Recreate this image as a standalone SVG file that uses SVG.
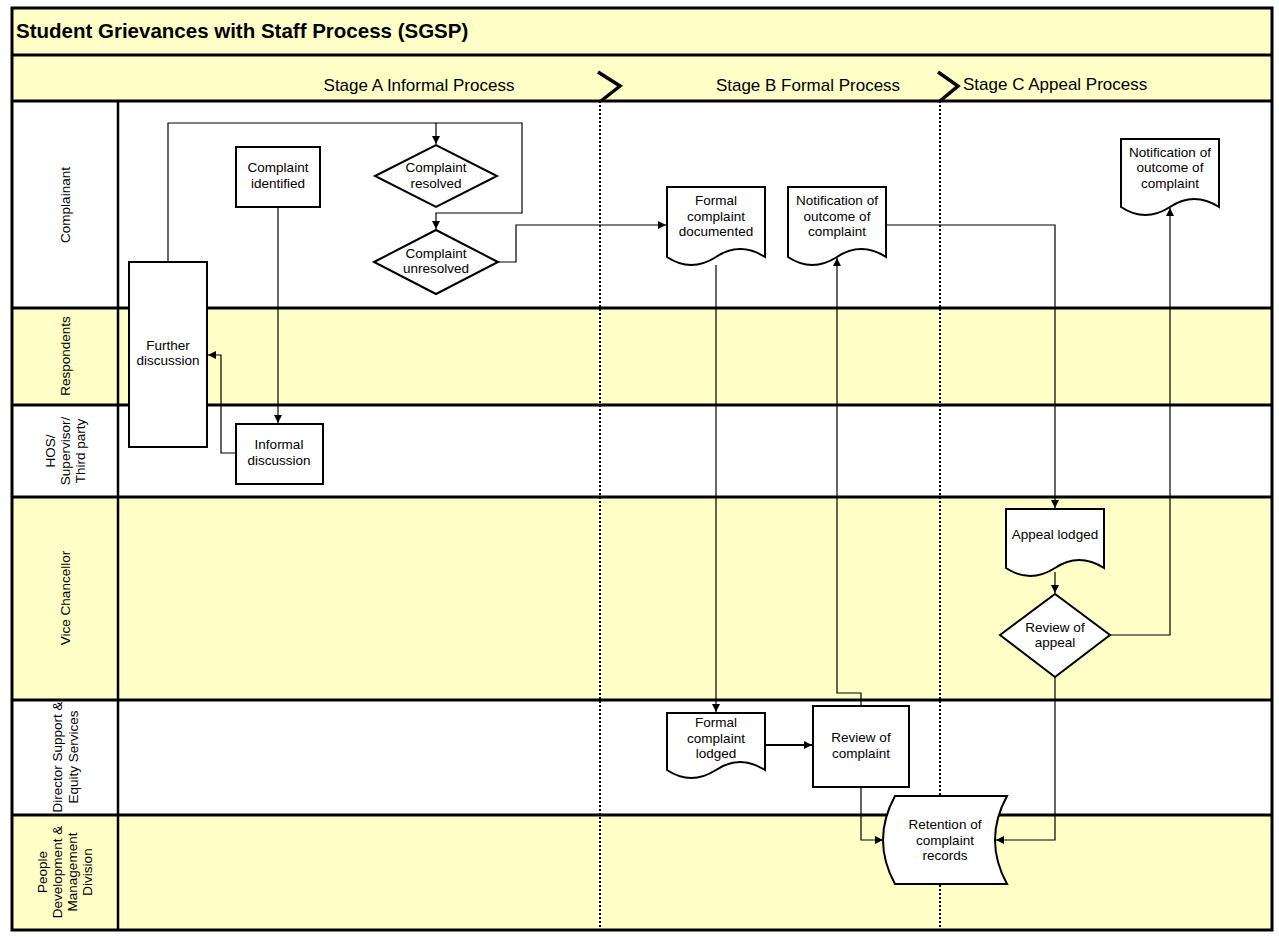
<svg xmlns="http://www.w3.org/2000/svg" width="1279" height="937" viewBox="0 0 1279 937">
<style>
.t{font-family:"Liberation Sans",Arial,sans-serif;font-size:13.5px;fill:#000;text-anchor:middle}
.lbl{font-family:"Liberation Sans",Arial,sans-serif;font-size:13.5px;fill:#000;text-anchor:middle}
.node{fill:#fff;stroke:#000;stroke-width:2}
.lane{stroke:#000;stroke-width:3}
.y{fill:#FFFFC8}
.w{fill:#fff}
.c{fill:none;stroke:#000;stroke-width:1.2}
.div{stroke:#000;stroke-width:2;stroke-dasharray:2,2}
.stage{font-family:"Liberation Sans",Arial,sans-serif;font-size:17px;fill:#000}
</style>
<defs>
<marker id="ah" markerWidth="10" markerHeight="10" refX="9" refY="5" orient="auto" markerUnits="userSpaceOnUse">
<path d="M1,1 L9,5 L1,9 Z" fill="#000"/>
</marker>
</defs>
<rect width="1279" height="937" fill="#fff"/>
<g id="frame">
<rect x="12" y="8" width="1260" height="47" class="y"/>
<rect x="12" y="55" width="1260" height="46" class="y"/>
<rect x="12" y="101" width="1260" height="207" class="w"/>
<rect x="12" y="308" width="1260" height="97" class="y"/>
<rect x="12" y="405" width="1260" height="92" class="w"/>
<rect x="12" y="497" width="1260" height="203" class="y"/>
<rect x="12" y="700" width="1260" height="115" class="w"/>
<rect x="12" y="815" width="1260" height="115" class="y"/>
<line x1="12" y1="55" x2="1272" y2="55" class="lane"/>
<line x1="12" y1="101" x2="1272" y2="101" class="lane"/>
<line x1="12" y1="308" x2="1272" y2="308" class="lane"/>
<line x1="12" y1="405" x2="1272" y2="405" class="lane"/>
<line x1="12" y1="497" x2="1272" y2="497" class="lane"/>
<line x1="12" y1="700" x2="1272" y2="700" class="lane"/>
<line x1="12" y1="815" x2="1272" y2="815" class="lane"/>
<line x1="118" y1="101" x2="118" y2="930" stroke="#000" stroke-width="2.5"/>
<rect x="12" y="8" width="1260" height="922" fill="none" stroke="#000" stroke-width="3"/>
<line x1="600" y1="101" x2="600" y2="930" class="div"/>
<line x1="940" y1="101" x2="940" y2="930" class="div"/>
<polyline points="598,72 620,86 601,101" fill="none" stroke="#000" stroke-width="3.5"/>
<polyline points="938,72 958,86 940,101" fill="none" stroke="#000" stroke-width="3.5"/>
<text x="16" y="38" font-family="'Liberation Sans',Arial,sans-serif" font-size="20.5" font-weight="bold">Student Grievances with Staff Process (SGSP)</text>
<text class="stage" x="419" y="91" text-anchor="middle">Stage A Informal Process</text>
<text class="stage" x="808" y="91" text-anchor="middle">Stage B Formal Process</text>
<text class="stage" x="963" y="90">Stage C Appeal Process</text>
</g>
<g id="lane-labels">
<text class="lbl" transform="translate(70,205) rotate(-90)">Complainant</text>
<text class="lbl" transform="translate(70,356) rotate(-90)">Respondents</text>
<text class="lbl" transform="rotate(-90 0 0)" x="-451" y="55">HOS/</text>
<text class="lbl" transform="rotate(-90 0 0)" x="-451" y="70">Supervisor/</text>
<text class="lbl" transform="rotate(-90 0 0)" x="-451" y="85">Third party</text>
<text class="lbl" transform="translate(70,598) rotate(-90)">Vice Chancellor</text>
<text class="lbl" transform="rotate(-90 0 0)" x="-757" y="62">Director Support &amp;</text>
<text class="lbl" transform="rotate(-90 0 0)" x="-757" y="78">Equity Services</text>
<text class="lbl" transform="rotate(-90 0 0)" x="-872" y="47">People</text>
<text class="lbl" transform="rotate(-90 0 0)" x="-872" y="62">Development &amp;</text>
<text class="lbl" transform="rotate(-90 0 0)" x="-872" y="77">Management</text>
<text class="lbl" transform="rotate(-90 0 0)" x="-872" y="92">Division</text>
</g>
<g id="connectors">
<polyline class="c" points="168,262 168,123 436,123 436,144" marker-end="url(#ah)"/>
<polyline class="c" points="436,123 522,123 522,213 436,213 436,229" marker-end="url(#ah)"/>
<polyline class="c" points="498,262 516,262 516,225 666,225" marker-end="url(#ah)"/>
<polyline class="c" points="278,207 278,423" marker-end="url(#ah)"/>
<polyline class="c" points="236,453 221,453 221,355 208,355" marker-end="url(#ah)"/>
<polyline class="c" points="716,265 716,712" marker-end="url(#ah)"/>
<line x1="765" y1="745" x2="812" y2="745" stroke="#000" stroke-width="2.2" marker-end="url(#ah)"/>
<polyline class="c" points="861,705 861,693 837,693 837,258" marker-end="url(#ah)"/>
<polyline class="c" points="886,225 1055,225 1055,508" marker-end="url(#ah)"/>
<polyline class="c" points="1055,572 1055,593" marker-end="url(#ah)"/>
<polyline class="c" points="1110,635 1170,635 1170,208" marker-end="url(#ah)"/>
<polyline class="c" points="1055,677 1055,840 996,840" marker-end="url(#ah)"/>
<polyline class="c" points="861,787 861,840 883,840" marker-end="url(#ah)"/>
</g>
<g id="n-complaint-identified">
<rect class="node" x="236" y="147" width="84" height="60"/>
<text class="t" x="278" y="172">Complaint</text>
<text class="t" x="278" y="188">identified</text>
</g>
<g id="n-complaint-resolved">
<polygon class="node" points="375,176 436,145 497,176 436,207"/>
<text class="t" x="436" y="172">Complaint</text>
<text class="t" x="436" y="188">resolved</text>
</g>
<g id="n-complaint-unresolved">
<polygon class="node" points="374,262 436,230 498,262 436,294"/>
<text class="t" x="436" y="258">Complaint</text>
<text class="t" x="436" y="273">unresolved</text>
</g>
<g id="n-further-discussion">
<rect class="node" x="129" y="262" width="78" height="185"/>
<text class="t" x="168" y="350">Further</text>
<text class="t" x="168" y="365">discussion</text>
</g>
<g id="n-informal-discussion">
<rect class="node" x="236" y="424" width="87" height="60"/>
<text class="t" x="279" y="449">Informal</text>
<text class="t" x="279" y="465">discussion</text>
</g>
<g id="n-formal-complaint-documented">
<path class="node" d="M667,187 H765 V257 Q740,241 716,257 Q691,273 667,257 Z"/>
<text class="t" x="716" y="205">Formal</text>
<text class="t" x="716" y="221">complaint</text>
<text class="t" x="716" y="236">documented</text>
</g>
<g id="n-notification-b">
<path class="node" d="M788,187 H886 V257 Q861,241 837,257 Q812,273 788,257 Z"/>
<text class="t" x="837" y="205">Notification of</text>
<text class="t" x="837" y="221">outcome of</text>
<text class="t" x="837" y="236">complaint</text>
</g>
<g id="n-notification-c">
<path class="node" d="M1121,139 H1219 V207 Q1194,191 1170,207 Q1145,223 1121,207 Z"/>
<text class="t" x="1170" y="157">Notification of</text>
<text class="t" x="1170" y="172">outcome of</text>
<text class="t" x="1170" y="188">complaint</text>
</g>
<g id="n-formal-complaint-lodged">
<path class="node" d="M667,713 H765 V770 Q740,754 716,770 Q691,786 667,770 Z"/>
<text class="t" x="716" y="727">Formal</text>
<text class="t" x="716" y="743">complaint</text>
<text class="t" x="716" y="758">lodged</text>
</g>
<g id="n-review-of-complaint">
<rect class="node" x="813" y="706" width="96" height="81"/>
<text class="t" x="861" y="742">Review of</text>
<text class="t" x="861" y="758">complaint</text>
</g>
<g id="n-appeal-lodged">
<path class="node" d="M1006,509 H1104 V568 Q1079,552 1055,568 Q1030,584 1006,568 Z"/>
<text class="t" x="1055" y="539">Appeal lodged</text>
</g>
<g id="n-review-of-appeal">
<polygon class="node" points="1000,635 1055,594 1110,635 1055,677"/>
<text class="t" x="1055" y="632">Review of</text>
<text class="t" x="1055" y="647">appeal</text>
</g>
<g id="n-retention">
<path class="node" d="M895,796 H1007 Q983,840 1007,884 H895 Q871,840 895,796 Z"/>
<text class="t" x="945" y="829">Retention of</text>
<text class="t" x="945" y="845">complaint</text>
<text class="t" x="945" y="860">records</text>
</g>
</svg>
